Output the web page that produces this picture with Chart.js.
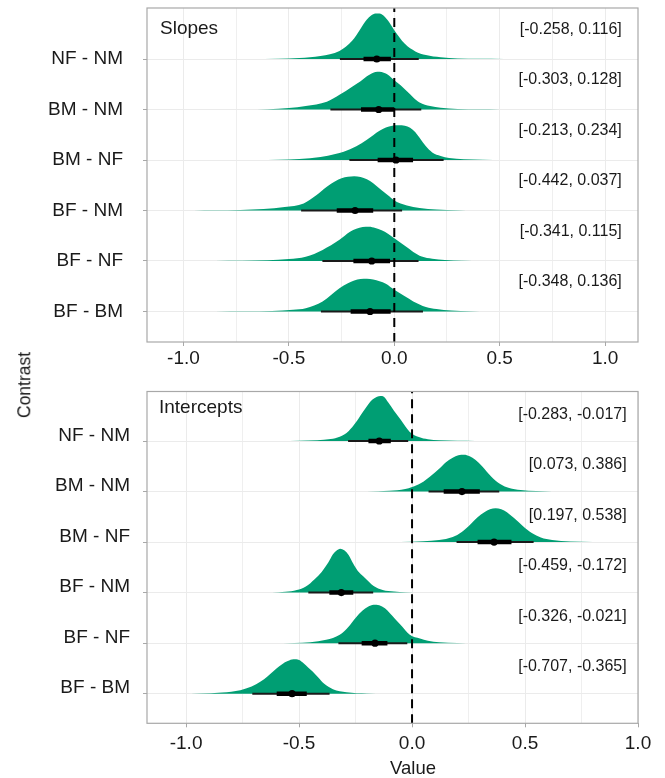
<!DOCTYPE html>
<html>
<head>
<meta charset="utf-8">
<script src="https://cdn.jsdelivr.net/npm/chart.js@4.4.1/dist/chart.umd.min.js"></script>
<style>
  body { margin: 0; background: #fff; width: 665px; height: 778px; position: relative; overflow: hidden; font-family: "Liberation Sans", Arial, sans-serif; }
  canvas { position: absolute; left: 0; }
  #slopes { top: 0; }
  #intercepts { top: 380px; }
  .axis-title { position: absolute; color: #1a1a1a; white-space: nowrap; line-height: 1; }
  #xTitle { left: 413px; top: 768px; font-size: 18.5px; transform: translate(-50%, -50%); }
  #yTitle { left: 24.5px; top: 384.5px; font-size: 17.5px; transform: translate(-50%, -50%) rotate(-90deg); }
</style>
</head>
<body>
<canvas id="slopes" width="665" height="380"></canvas>
<canvas id="intercepts" width="665" height="398"></canvas>
<div class="axis-title" id="yTitle">Contrast</div>
<div class="axis-title" id="xTitle">Value</div>
<script>
// rows from top to bottom
const contrasts = ["NF - NM", "BM - NM", "BM - NF", "BF - NM", "BF - NF", "BF - BM"];
const rows = [6, 5, 4, 3, 2, 1];
const xTicks = [-1, -0.75, -0.5, -0.25, 0, 0.25, 0.5, 0.75, 1];

// ---- Slopes: density outline (value, height in row units) ----
const slopeDensX = [
  [-0.68, -0.55, -0.45, -0.35, -0.26, -0.2, -0.16, -0.13, -0.11, -0.09, -0.07, -0.05, -0.03, 0.0, 0.05, 0.1, 0.15, 0.22, 0.3, 0.4, 0.52],
  [-0.7, -0.6, -0.5, -0.42, -0.32, -0.26, -0.2, -0.16, -0.13, -0.11, -0.09, -0.07, -0.05, -0.03, 0.0, 0.03, 0.06, 0.09, 0.12, 0.17, 0.22, 0.3, 0.4, 0.5],
  [-0.65, -0.55, -0.45, -0.35, -0.28, -0.24, -0.18, -0.13, -0.07, -0.04, -0.01, 0.02, 0.05, 0.075, 0.1, 0.12, 0.15, 0.18, 0.22, 0.26, 0.33, 0.42, 0.52],
  [-0.95, -0.85, -0.73, -0.62, -0.52, -0.43, -0.37, -0.32, -0.28, -0.25, -0.22, -0.19, -0.16, -0.13, -0.1, -0.06, -0.03, 0.0, 0.06, 0.12, 0.2, 0.3, 0.38],
  [-0.85, -0.72, -0.6, -0.5, -0.42, -0.34, -0.26, -0.21, -0.18, -0.15, -0.12, -0.09, -0.06, -0.03, 0.0, 0.05, 0.09, 0.13, 0.18, 0.24, 0.32, 0.42],
  [-0.85, -0.7, -0.58, -0.48, -0.42, -0.34, -0.26, -0.22, -0.19, -0.16, -0.13, -0.1, -0.07, -0.04, 0.0, 0.05, 0.09, 0.15, 0.2, 0.27, 0.36, 0.45]
];
const slopeDensH = [
  [0, 0.006, 0.02, 0.06, 0.16, 0.36, 0.6, 0.78, 0.86, 0.9, 0.9, 0.855, 0.76, 0.57, 0.3, 0.15, 0.08, 0.035, 0.012, 0.004, 0],
  [0, 0.006, 0.03, 0.07, 0.155, 0.29, 0.45, 0.56, 0.66, 0.71, 0.745, 0.75, 0.73, 0.69, 0.58, 0.48, 0.36, 0.24, 0.14, 0.07, 0.035, 0.012, 0.004, 0],
  [0, 0.005, 0.02, 0.06, 0.12, 0.165, 0.27, 0.4, 0.58, 0.645, 0.68, 0.69, 0.68, 0.64, 0.55, 0.44, 0.27, 0.15, 0.08, 0.04, 0.015, 0.005, 0],
  [0, 0.003, 0.012, 0.03, 0.07, 0.14, 0.3, 0.47, 0.58, 0.64, 0.67, 0.68, 0.665, 0.62, 0.54, 0.4, 0.3, 0.2, 0.1, 0.05, 0.02, 0.006, 0],
  [0, 0.004, 0.015, 0.04, 0.085, 0.22, 0.42, 0.58, 0.64, 0.675, 0.68, 0.655, 0.61, 0.54, 0.45, 0.3, 0.18, 0.09, 0.045, 0.02, 0.006, 0],
  [0, 0.004, 0.012, 0.035, 0.065, 0.2, 0.46, 0.56, 0.615, 0.645, 0.65, 0.635, 0.6, 0.55, 0.43, 0.3, 0.2, 0.09, 0.05, 0.02, 0.005, 0]
];
const slopeMedian = [-0.083, -0.074, 0.008, -0.186, -0.107, -0.115];
const slopeThickLo = [-0.146, -0.158, -0.079, -0.273, -0.194, -0.207];
const slopeThickHi = [-0.016, 0.0, 0.089, -0.1, -0.02, -0.017];
const slopeThinLo = [-0.258, -0.303, -0.213, -0.442, -0.341, -0.348];
const slopeThinHi = [0.116, 0.128, 0.234, 0.037, 0.115, 0.136];
const slopeText = ["[-0.258, 0.116]", "[-0.303, 0.128]", "[-0.213, 0.234]", "[-0.442, 0.037]", "[-0.341, 0.115]", "[-0.348, 0.136]"];

// ---- Intercepts ----
const interceptDensX = [
  [-0.58, -0.5, -0.42, -0.36, -0.32, -0.28, -0.25, -0.22, -0.195, -0.175, -0.155, -0.14, -0.125, -0.105, -0.08, -0.05, -0.01, 0.03, 0.07, 0.12, 0.2, 0.28],
  [-0.3, -0.2, -0.1, -0.03, 0.0, 0.04, 0.08, 0.12, 0.15, 0.18, 0.205, 0.23, 0.255, 0.28, 0.31, 0.35, 0.39, 0.43, 0.48, 0.55, 0.62, 0.7],
  [-0.15, -0.05, 0.05, 0.12, 0.18, 0.22, 0.26, 0.29, 0.32, 0.345, 0.37, 0.395, 0.42, 0.45, 0.49, 0.53, 0.57, 0.62, 0.7, 0.8, 0.88],
  [-0.72, -0.62, -0.56, -0.51, -0.47, -0.43, -0.4, -0.37, -0.35, -0.335, -0.318, -0.3, -0.28, -0.26, -0.24, -0.215, -0.19, -0.17, -0.13, -0.08, -0.03, 0.05],
  [-0.62, -0.52, -0.45, -0.38, -0.32, -0.28, -0.25, -0.22, -0.195, -0.17, -0.145, -0.12, -0.1, -0.075, -0.05, -0.01, 0.035, 0.07, 0.12, 0.2, 0.28],
  [-1.02, -0.94, -0.84, -0.76, -0.71, -0.67, -0.64, -0.6, -0.575, -0.55, -0.525, -0.5, -0.48, -0.46, -0.44, -0.415, -0.39, -0.35, -0.29, -0.2, -0.12]
];
const interceptDensH = [
  [0, 0.004, 0.015, 0.04, 0.085, 0.2, 0.36, 0.56, 0.72, 0.82, 0.875, 0.89, 0.875, 0.76, 0.6, 0.42, 0.18, 0.08, 0.035, 0.013, 0.004, 0],
  [0, 0.003, 0.015, 0.05, 0.09, 0.17, 0.3, 0.45, 0.58, 0.67, 0.72, 0.73, 0.7, 0.63, 0.5, 0.3, 0.15, 0.07, 0.03, 0.01, 0.002, 0],
  [0, 0.004, 0.015, 0.04, 0.1, 0.2, 0.36, 0.49, 0.59, 0.65, 0.67, 0.65, 0.59, 0.48, 0.32, 0.18, 0.09, 0.04, 0.012, 0.003, 0],
  [0, 0.004, 0.015, 0.05, 0.12, 0.27, 0.41, 0.6, 0.76, 0.83, 0.87, 0.84, 0.74, 0.57, 0.43, 0.32, 0.21, 0.13, 0.05, 0.02, 0.006, 0],
  [0, 0.005, 0.02, 0.065, 0.165, 0.33, 0.5, 0.64, 0.72, 0.76, 0.75, 0.69, 0.6, 0.48, 0.36, 0.165, 0.09, 0.05, 0.02, 0.005, 0],
  [0, 0.005, 0.025, 0.07, 0.14, 0.24, 0.34, 0.5, 0.585, 0.645, 0.68, 0.665, 0.6, 0.52, 0.44, 0.32, 0.2, 0.09, 0.03, 0.005, 0]
];
const interceptMedian = [-0.145, 0.221, 0.363, -0.313, -0.164, -0.531];
const interceptThickLo = [-0.193, 0.14, 0.29, -0.366, -0.223, -0.599];
const interceptThickHi = [-0.094, 0.3, 0.44, -0.26, -0.109, -0.466];
const interceptThinLo = [-0.283, 0.073, 0.197, -0.459, -0.326, -0.707];
const interceptThinHi = [-0.017, 0.386, 0.538, -0.172, -0.021, -0.365];
const interceptText = ["[-0.283, -0.017]", "[0.073, 0.386]", "[0.197, 0.538]", "[-0.459, -0.172]", "[-0.326, -0.021]", "[-0.707, -0.365]"];

const FONT = '"Liberation Sans", Arial, sans-serif';
const TEXT = "#1a1a1a";
const GREEN = "#009E73";
const isMajor = (v) => Math.abs(v * 2 - Math.round(v * 2)) < 1e-6;

const panelDecor = {
  id: "panelDecor",
  afterDatasetsDraw(chart, args, opts) {
    const { ctx, chartArea: a, scales: { x, y } } = chart;
    ctx.save();
    ctx.fillStyle = TEXT;
    ctx.font = "19px " + FONT;
    ctx.textAlign = "left";
    ctx.textBaseline = "alphabetic";
    ctx.fillText(opts.title, a.left + opts.titleDx, a.top + opts.titleDy);
    ctx.font = "16px " + FONT;
    ctx.textAlign = "right";
    ctx.textBaseline = "middle";
    opts.labels.forEach((t, i) => {
      ctx.fillText(t, x.getPixelForValue(opts.labelX), y.getPixelForValue(rows[i] + opts.labelDy));
    });
    ctx.strokeStyle = "#a8a8a8";
    ctx.lineWidth = 1.2;
    ctx.strokeRect(a.left, a.top, a.right - a.left, a.bottom - a.top);
    ctx.restore();
  }
};

function buildDatasets(p) {
  const sets = [];
  rows.forEach((r, i) => {
    sets.push({
      data: p.densX[i].map((v, k) => ({ x: v, y: r + p.densH[i][k] })),
      fill: { value: r },
      backgroundColor: GREEN,
      borderColor: "rgba(0,0,0,0)",
      borderWidth: 0,
      pointRadius: 0,
      cubicInterpolationMode: "monotone",
      order: 5
    });
    sets.push({
      data: [{ x: p.thinLo[i], y: r }, { x: p.thinHi[i], y: r }],
      borderColor: "#1a1a1a", borderWidth: 2, pointRadius: 0, fill: false, order: 4
    });
    sets.push({
      data: [{ x: p.thickLo[i], y: r }, { x: p.thickHi[i], y: r }],
      borderColor: "#000", borderWidth: 4.5, pointRadius: 0, fill: false, order: 3
    });
    sets.push({
      data: [{ x: p.median[i], y: r }],
      showLine: false, pointRadius: 3.6, pointBackgroundColor: "#000",
      pointBorderWidth: 0, fill: false, order: 2
    });
  });
  sets.push({
    data: [{ x: 0, y: p.yMin }, { x: 0, y: p.yMax }],
    borderColor: "#000", borderWidth: 2, borderDash: [9, 6],
    pointRadius: 0, fill: false, order: 1
  });
  return sets;
}

function makeChart(id, p) {
  return new Chart(document.getElementById(id), {
    type: "line",
    data: { datasets: buildDatasets(p) },
    plugins: [panelDecor],
    options: {
      responsive: false,
      animation: false,
      layout: { padding: { top: p.padTop, right: 27, bottom: 0, left: 0 } },
      plugins: {
        legend: { display: false },
        tooltip: { enabled: false },
        panelDecor: {
          title: p.title, titleDx: p.titleDx, titleDy: p.titleDy,
          labels: p.text, labelX: p.labelX, labelDy: p.labelDy
        }
      },
      scales: {
        x: {
          type: "linear",
          min: p.xMin,
          max: p.xMax,
          afterBuildTicks: (s) => { s.ticks = xTicks.filter((v) => v <= p.xMax + 1e-9).map((v) => ({ value: v })); },
          afterFit: (s) => {
            s.height = p.xAxisHeight;
            s.paddingLeft = 0; s.paddingRight = 0;
          },
          ticks: {
            autoSkip: false, maxRotation: 0, minRotation: 0,
            padding: p.xTickPad, color: TEXT,
            font: { size: 19, family: FONT },
            callback: (v) => (isMajor(v) ? v.toFixed(1) : "")
          },
          grid: {
            color: "#ebebeb",
            lineWidth: (c) => (c.tick && !isMajor(c.tick.value) ? 0.8 : 1),
            tickColor: (c) => (c.tick && isMajor(c.tick.value) ? "#a8a8a8" : "rgba(0,0,0,0)"),
            tickLength: 4
          },
          border: { display: false }
        },
        y: {
          type: "linear",
          min: p.yMin,
          max: p.yMax,
          afterBuildTicks: (s) => { s.ticks = rows.map((v) => ({ value: v })); },
          afterFit: (s) => {
            s.width = 147;
            s.paddingTop = 0; s.paddingBottom = 0;
          },
          ticks: {
            padding: p.yTickPad, labelOffset: p.yLabelOffset, color: TEXT,
            font: { size: 19, family: FONT },
            callback: (v) => contrasts[rows.indexOf(v)]
          },
          grid: { color: "#ebebeb", tickColor: "#a8a8a8", tickLength: 4 },
          border: { display: false }
        }
      }
    }
  });
}

makeChart("slopes", {
  densX: slopeDensX, densH: slopeDensH, median: slopeMedian,
  thickLo: slopeThickLo, thickHi: slopeThickHi, thinLo: slopeThinLo, thinHi: slopeThinHi,
  text: slopeText, title: "Slopes", titleDx: 13, titleDy: 26,
  labelX: 1.079, labelDy: 0.59,
  xMin: -1.173, xMax: 1.156, yMin: 0.396, yMax: 7.01,
  padTop: 8, xAxisHeight: 38, xTickPad: 1.6, yTickPad: 20, yLabelOffset: 0
});

makeChart("intercepts", {
  densX: interceptDensX, densH: interceptDensH, median: interceptMedian,
  thickLo: interceptThickLo, thickHi: interceptThickHi, thinLo: interceptThinLo, thinHi: interceptThinHi,
  text: interceptText, title: "Intercepts", titleDx: 12, titleDy: 21.8,
  labelX: 0.95, labelDy: 0.53,
  xMin: -1.173, xMax: 1.0, yMin: 0.414, yMax: 6.98,
  padTop: 11.5, xAxisHeight: 54.7, xTickPad: 4.8, yTickPad: 13, yLabelOffset: -5.5
});
</script>
</body>
</html>
